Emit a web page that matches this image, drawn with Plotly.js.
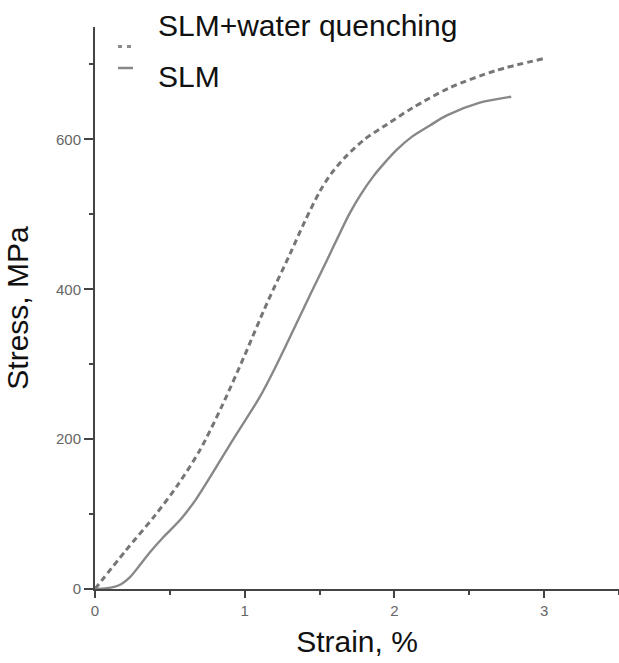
<!DOCTYPE html>
<html>
<head>
<meta charset="utf-8">
<script src="https://cdn.plot.ly/plotly-3.0.1.min.js"></script>
<style>html,body{margin:0;padding:0;background:#fff;}#chart{width:619px;height:663px;}</style>
</head>
<body>
<div id="chart"></div>
<script>
// Series: SLM + water quenching (dashed)
const wqStrain = [0, 0.2, 0.4, 0.55, 0.70, 0.85, 1.0, 1.15, 1.30, 1.40, 1.50, 1.58, 1.68, 1.80, 1.95, 2.12, 2.37, 2.68, 3.0];
const wqStress = [0, 50, 98, 138, 185, 245, 312, 382, 446, 490, 530, 555, 578, 600, 620, 642, 669, 692, 708];
// Series: SLM (solid)
const slmStrain = [0, 0.08, 0.16, 0.234, 0.30, 0.367, 0.456, 0.568, 0.679, 0.924, 1.10, 1.20, 1.45, 1.55, 1.70, 1.78, 1.86, 1.94, 2.02, 2.12, 2.24, 2.35, 2.57, 2.78];
const slmStress = [0, 1, 5, 16, 32, 49, 69, 92, 121, 200, 256, 294, 398, 439, 501, 528, 551, 570, 587, 604, 619, 632, 649, 657];
const seriesNames = ["SLM+water quenching", "SLM"];
const xTickVals = [0, 1, 2, 3];
const yTickVals = [0, 200, 400, 600];

const font = "Liberation Sans, Arial, sans-serif";
const axisColor = "#444";

const traces = [
  {x: wqStrain, y: wqStress, name: seriesNames[0], mode: "lines",
   line: {color: "#767676", width: 3, dash: "6px,4px", shape: "spline", smoothing: 0.8}},
  {x: slmStrain, y: slmStress, name: seriesNames[1], mode: "lines",
   line: {color: "#888888", width: 2.4, shape: "spline", smoothing: 0.8}}
];

const plotL = 95, plotT = 27, plotB = 74, plotR = 0;
const W = 619, H = 663;
const pw = W - plotL - plotR, ph = H - plotT - plotB;
const px = v => (v - plotL) / pw;
const py = v => (H - plotB - v) / ph;

const layout = {
  width: W, height: H,
  margin: {l: plotL, r: plotR, t: plotT, b: plotB, pad: 0},
  paper_bgcolor: "#fff", plot_bgcolor: "#fff",
  showlegend: false,
  font: {family: font},
  xaxis: {
    range: [0, 3.5], tickvals: xTickVals, ticktext: xTickVals.map(String),
    showline: true, linecolor: axisColor, linewidth: 2,
    ticks: "outside", ticklen: 7, tickwidth: 2, tickcolor: axisColor,
    minor: {dtick: 0.5, tick0: 0, ticks: "outside", ticklen: 4, tickwidth: 2, tickcolor: axisColor},
    showgrid: false, zeroline: false,
    tickfont: {family: font, size: 15, color: "#666"},
    title: {text: "Strain, %", font: {family: font, size: 30, color: "#111"}, standoff: 13}
  },
  yaxis: {
    range: [0, 750], tickvals: yTickVals, ticktext: yTickVals.map(String),
    showline: true, linecolor: axisColor, linewidth: 2,
    ticks: "outside", ticklen: 9, tickwidth: 2, tickcolor: axisColor,
    minor: {dtick: 100, tick0: 0, ticks: "outside", ticklen: 4, tickwidth: 2, tickcolor: axisColor},
    showgrid: false, zeroline: false,
    tickfont: {family: font, size: 15, color: "#666"},
    title: {text: "Stress, MPa", font: {family: font, size: 30, color: "#111"}, standoff: 18}
  },
  annotations: [
    {xref: "paper", yref: "paper", x: px(156), y: py(26), xanchor: "left", yanchor: "middle",
     text: seriesNames[0], showarrow: false, font: {family: font, size: 30, color: "#111"}},
    {xref: "paper", yref: "paper", x: px(156), y: py(76), xanchor: "left", yanchor: "middle",
     text: seriesNames[1], showarrow: false, font: {family: font, size: 30, color: "#111"}}
  ],
  shapes: [
    {type: "line", xref: "paper", yref: "paper", x0: px(118), x1: px(134), y0: py(46.5), y1: py(46.5),
     line: {color: "#8a8a8a", width: 3, dash: "4px,5px"}},
    {type: "line", xref: "paper", yref: "paper", x0: px(118), x1: px(133), y0: py(68), y1: py(68),
     line: {color: "#888", width: 2.5}}
  ]
};

Plotly.newPlot("chart", traces, layout, {displayModeBar: false, staticPlot: true});
</script>
</body>
</html>
